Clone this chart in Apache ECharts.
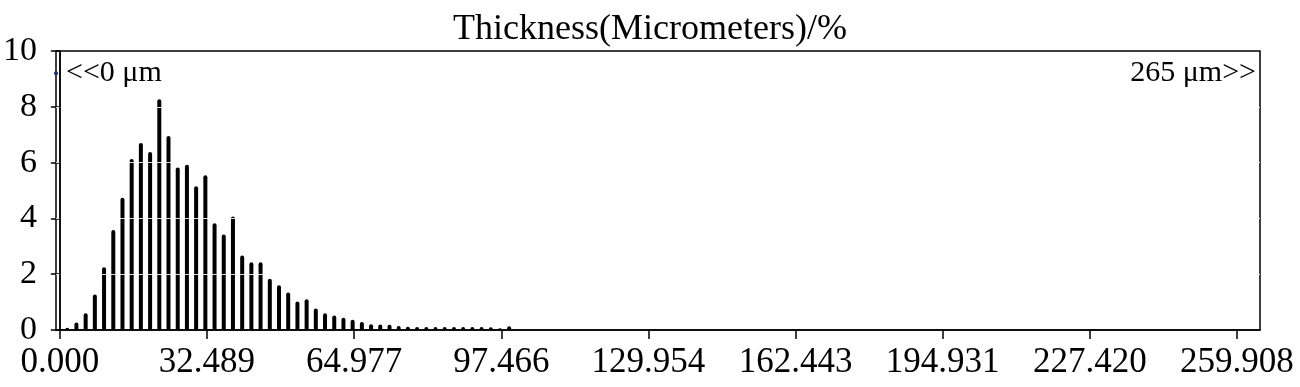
<!DOCTYPE html>
<html>
<head>
<meta charset="utf-8">
<script src="https://cdn.jsdelivr.net/npm/echarts@6/dist/echarts.min.js"></script>
<style>
html,body{margin:0;padding:0;background:#fff;}
#chart{width:1300px;height:387px;}
</style>
</head>
<body>
<div id="chart"></div>
<script>
// Bin centres (micrometers)
var binCenters = [1.63,3.66,5.70,7.73,9.76,11.80,13.83,15.86,17.89,19.93,21.96,23.99,26.03,28.06,30.09,32.13,34.16,36.19,38.22,40.26,42.29,44.32,46.36,48.39,50.42,52.46,54.49,56.52,58.55,60.59,62.62,64.65,66.69,68.72,70.75,72.79,74.82,76.85,78.88,80.92,82.95,84.98,87.02,89.05,91.08,93.12,95.15,97.18,99.21];
// Percentage per bin
var percentValues = [0.08,0.27,0.6,1.27,2.25,3.58,4.74,6.13,6.7,6.38,8.27,6.95,5.82,5.92,5.15,5.55,3.83,3.42,4.07,2.67,2.43,2.43,1.84,1.6,1.34,1.02,1.1,0.77,0.6,0.52,0.44,0.37,0.29,0.21,0.2,0.19,0.14,0.12,0.11,0.11,0.11,0.11,0.11,0.11,0.11,0.11,0.1,0.06,0.13];
// X tick values and labels
var xTickValues = [0, 32.489, 64.977, 97.466, 129.954, 162.443, 194.931, 227.420, 259.908];
var xTickLabels = ['0.000','32.489','64.977','97.466','129.954','162.443','194.931','227.420','259.908'];
var yGridValues = [2, 4, 6, 8];
var xMin = -0.85, xMax = 265;
var leftNoteY = 9.2, rightNoteY = 9.2;
var titleText = 'Thickness(Micrometers)/%';

var FONT = "'Liberation Serif', 'Times New Roman', serif";
var barData = binCenters.map(function (x, i) { return [x, percentValues[i]]; });

var chart = echarts.init(document.getElementById('chart'));
chart.setOption({
  animation: false,
  backgroundColor: '#fff',
  title: {
    text: titleText,
    left: 'center',
    top: 7,
    textStyle: { fontFamily: FONT, fontSize: 36, fontWeight: 'normal', color: '#000' }
  },
  grid: {
    left: 55, right: 40, top: 51, bottom: 57,
    show: true, borderColor: '#000', borderWidth: 1.5, backgroundColor: 'transparent'
  },
  xAxis: {
    type: 'value',
    min: xMin, max: xMax,
    axisLine: { show: true, lineStyle: { color: '#000', width: 1.5 } },
    axisTick: { show: true, customValues: xTickValues, length: 9, lineStyle: { color: '#000', width: 1.5 } },
    axisLabel: {
      customValues: xTickValues,
      margin: 15,
      fontFamily: FONT, fontSize: 35, color: '#000',
      formatter: function (v) {
        var best = 0, d = Infinity;
        for (var i = 0; i < xTickValues.length; i++) {
          var dd = Math.abs(xTickValues[i] - v);
          if (dd < d) { d = dd; best = i; }
        }
        return xTickLabels[best];
      }
    },
    splitLine: { show: false }
  },
  yAxis: {
    type: 'value',
    min: 0, max: 10, interval: 2,
    axisLine: { show: true, lineStyle: { color: '#000', width: 1.5 } },
    axisTick: { show: true, length: 9, lineStyle: { color: '#000', width: 1.5 } },
    axisLabel: { margin: 19, fontFamily: FONT, fontSize: 34, color: '#000' },
    splitLine: { show: false }
  },
  series: [
    {
      type: 'bar',
      data: barData,
      barWidth: 4,
      itemStyle: { color: '#000', borderRadius: [2, 2, 0, 0] },
      markLine: {
        silent: true,
        symbol: 'none',
        label: { show: false },
        data: yGridValues.map(function (v) {
          return { yAxis: v, lineStyle: { color: '#fff', width: 1, type: 'solid', opacity: 0.85 } };
        }).concat([{ xAxis: 0, lineStyle: { color: '#000', width: 1.5, type: 'solid' } }])
      }
    },
    {
      type: 'scatter',
      silent: true,
      data: [[xMin, leftNoteY]],
      symbol: 'circle',
      symbolSize: 4,
      itemStyle: { color: '#1a2a80', opacity: 1 },
      label: {
        show: true, position: 'right', distance: 8,
        formatter: '<<0 \u03bcm',
        fontFamily: FONT, fontSize: 30, color: '#000'
      },
      z: 5
    },
    {
      type: 'scatter',
      silent: true,
      data: [[xMax, rightNoteY]],
      symbolSize: 0,
      itemStyle: { opacity: 1 },
      label: {
        show: true, position: 'left', distance: 4,
        formatter: '265 \u03bcm>>',
        fontFamily: FONT, fontSize: 30, color: '#000'
      },
      z: 5
    }
  ]
});
</script>
</body>
</html>
